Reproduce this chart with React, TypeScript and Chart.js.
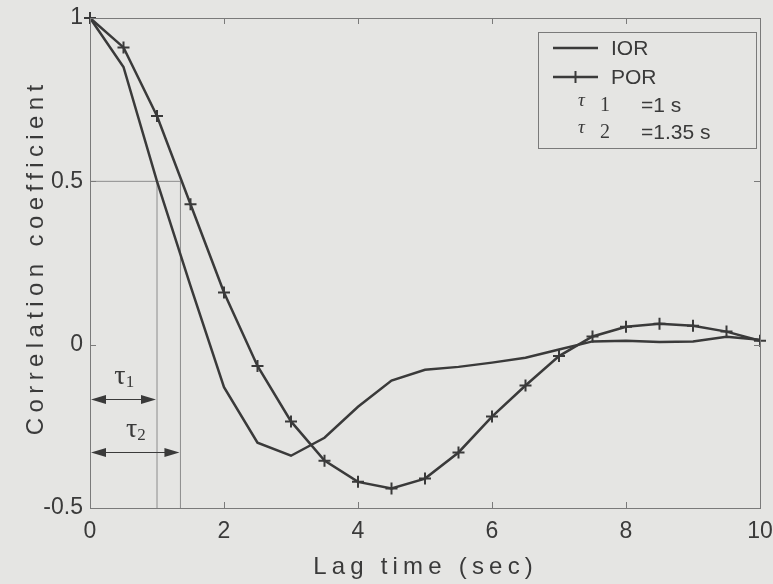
import React, { useEffect, useRef } from "react";
import { Chart, registerables } from "chart.js";

Chart.register(...registerables);

// ---- data ----
const lagTimes = [0, 0.5, 1, 1.5, 2, 2.5, 3, 3.5, 4, 4.5, 5, 5.5, 6, 6.5, 7, 7.5, 8, 8.5, 9, 9.5, 10];
const iorValues = [1.0, 0.85, 0.5, 0.18, -0.13, -0.3, -0.34, -0.285, -0.19, -0.11, -0.077, -0.068, -0.055, -0.04, -0.015, 0.01, 0.012, 0.008, 0.01, 0.024, 0.015];
const porValues = [1.0, 0.91, 0.7, 0.43, 0.16, -0.065, -0.235, -0.355, -0.42, -0.44, -0.41, -0.33, -0.22, -0.125, -0.035, 0.025, 0.055, 0.064, 0.058, 0.04, 0.012];
const seriesNames = ["IOR", "POR"];
const tauValues = [1, 1.35];
const tauArrowLevels = [-0.165, -0.33];
const tauLegendTexts = ["=1 s", "=1.35 s"];
const xTickValues = [0, 2, 4, 6, 8, 10];
const yTickValues = [-0.5, 0, 0.5, 1];
const xTitle = "Lag time (sec)";
const yTitle = "Correlation coefficient";

// ---- styles ----
const BG = "#e5e5e3";
const INK = "#3a3a3a";
const FRAME = "#7a7a7a";
const THIN = "#8c8c8c";
const SANS = '"Liberation Sans", Arial, sans-serif';
const SERIF = '"Liberation Serif", "Times New Roman", serif';

function line(ctx: CanvasRenderingContext2D, x1: number, y1: number, x2: number, y2: number) {
  ctx.beginPath();
  ctx.moveTo(x1, y1);
  ctx.lineTo(x2, y2);
  ctx.stroke();
}

function arrowHead(ctx: CanvasRenderingContext2D, tipX: number, y: number, dir: number) {
  const len = 15;
  const half = 4.5;
  ctx.beginPath();
  ctx.moveTo(tipX, y);
  ctx.lineTo(tipX - dir * len, y - half);
  ctx.lineTo(tipX - dir * len, y + half);
  ctx.closePath();
  ctx.fill();
}

function spacedText(ctx: CanvasRenderingContext2D, text: string, cx: number, y: number, spacing: number) {
  (ctx as any).letterSpacing = spacing + "px";
  const w = ctx.measureText(text).width - spacing;
  ctx.textAlign = "left";
  ctx.fillText(text, cx - w / 2, y);
  (ctx as any).letterSpacing = "0px";
}

const decor = {
  id: "decor",
  beforeDraw(chart: any) {
    const { ctx, width, height } = chart;
    ctx.save();
    ctx.fillStyle = BG;
    ctx.fillRect(0, 0, width, height);
    ctx.restore();
  },
  beforeDatasetsDraw(chart: any) {
    const { ctx } = chart;
    const xs = chart.scales.x;
    const ys = chart.scales.y;
    const xp = (v: number) => xs.getPixelForValue(v);
    const yp = (v: number) => ys.getPixelForValue(v);
    ctx.save();
    ctx.strokeStyle = THIN;
    ctx.lineWidth = 1;
    line(ctx, xp(0), yp(0.5), xp(tauValues[1]), yp(0.5));
    tauValues.forEach((t) => line(ctx, xp(t), yp(0.5), xp(t), yp(-0.5)));

    ctx.strokeStyle = INK;
    ctx.fillStyle = INK;
    tauValues.forEach((t, i) => {
      const y = Math.round(yp(tauArrowLevels[i])) + 0.5;
      line(ctx, xp(0) + 8, y, xp(t) - 8, y);
      arrowHead(ctx, xp(0) + 1, y, -1);
      arrowHead(ctx, xp(t) - 1, y, 1);
      // tau label
      const cx = (xp(0) + xp(t)) / 2;
      ctx.font = `28px ${SERIF}`;
      ctx.textAlign = "left";
      ctx.textBaseline = "alphabetic";
      const tw = ctx.measureText("τ").width;
      const lx = cx - (tw + 9) / 2 + 1;
      ctx.fillText("τ", lx, y - 16);
      ctx.font = `17px ${SERIF}`;
      ctx.fillText(String(i + 1), lx + tw, y - 13);
    });
    ctx.restore();
  },
  afterDraw(chart: any) {
    const { ctx, chartArea } = chart;
    const { left, right, top, bottom } = chartArea;
    const xs = chart.scales.x;
    const ys = chart.scales.y;
    ctx.save();
    // frame
    ctx.strokeStyle = FRAME;
    ctx.lineWidth = 1;
    ctx.strokeRect(Math.round(left) + 0.5, Math.round(top) + 0.5, Math.round(right - left), Math.round(bottom - top));
    // inside ticks
    const tl = 6;
    xTickValues.forEach((v) => {
      const x = Math.round(xs.getPixelForValue(v)) + 0.5;
      line(ctx, x, bottom, x, bottom - tl);
      line(ctx, x, top, x, top + tl);
    });
    yTickValues.forEach((v) => {
      const y = Math.round(ys.getPixelForValue(v)) + 0.5;
      line(ctx, left, y, left + tl, y);
      line(ctx, right, y, right - tl, y);
    });

    // legend box
    const bx = 538, by = 32, bw = 218, bh = 116;
    ctx.strokeStyle = FRAME;
    ctx.strokeRect(bx + 0.5, by + 0.5, bw, bh);
    ctx.strokeStyle = INK;
    ctx.fillStyle = INK;
    ctx.lineWidth = 2.5;
    const rows = [48, 77, 104, 131];
    line(ctx, 553, rows[0], 598, rows[0]);
    line(ctx, 553, rows[1], 598, rows[1]);
    ctx.lineWidth = 2;
    line(ctx, 575.5, rows[1] - 6, 575.5, rows[1] + 6);
    ctx.font = `21px ${SANS}`;
    ctx.textBaseline = "middle";
    ctx.textAlign = "left";
    ctx.fillText(seriesNames[0], 611, rows[0] + 1);
    ctx.fillText(seriesNames[1], 611, rows[1] + 1);
    tauLegendTexts.forEach((txt, i) => {
      const r = rows[2 + i];
      ctx.textBaseline = "alphabetic";
      ctx.font = `italic 19px ${SERIF}`;
      ctx.fillText("τ", 578, r + 2);
      ctx.font = `20px ${SERIF}`;
      ctx.fillText(String(i + 1), 600, r + 7);
      ctx.font = `21px ${SANS}`;
      ctx.fillText(txt, 641, r + 8);
    });

    // axis titles
    ctx.fillStyle = INK;
    ctx.font = `24px ${SANS}`;
    ctx.textBaseline = "alphabetic";
    spacedText(ctx, xTitle, 423, 574, 5.2);
    ctx.translate(43, 260);
    ctx.rotate(-Math.PI / 2);
    spacedText(ctx, yTitle, 0, 0, 5.4);
    ctx.restore();
  },
};

export default function App() {
  const canvasRef = useRef<HTMLCanvasElement | null>(null);

  useEffect(() => {
    document.body.style.margin = "0";
    document.body.style.background = BG;
    const canvas = canvasRef.current;
    if (!canvas) return;
    const chart = new Chart(canvas, {
      type: "line",
      data: {
        datasets: [
          {
            label: seriesNames[0],
            data: lagTimes.map((t, i) => ({ x: t, y: iorValues[i] })),
            borderColor: INK,
            borderWidth: 2.5,
            pointRadius: 0,
            pointHoverRadius: 0,
            tension: 0,
            clip: false,
          },
          {
            label: seriesNames[1],
            data: lagTimes.map((t, i) => ({ x: t, y: porValues[i] })),
            borderColor: INK,
            borderWidth: 2.5,
            pointStyle: "cross",
            pointRadius: 6,
            pointHoverRadius: 6,
            pointBorderWidth: 2,
            pointBorderColor: INK,
            pointBackgroundColor: INK,
            tension: 0,
            clip: false,
          },
        ],
      } as any,
      options: {
        animation: false,
        responsive: false,
        devicePixelRatio: 1,
        events: [],
        layout: { padding: { top: 18, right: 13, left: 0, bottom: 0 } },
        plugins: { legend: { display: false }, tooltip: { enabled: false } },
        scales: {
          x: {
            type: "linear",
            min: 0,
            max: 10,
            afterBuildTicks: (s: any) => {
              s.ticks = xTickValues.map((v) => ({ value: v }));
            },
            afterFit: (s: any) => {
              s.height = 76;
              s.paddingLeft = 0;
              s.paddingRight = 0;
            },
            grid: { display: false, drawTicks: false },
            border: { display: false },
            ticks: {
              font: { family: SANS, size: 23 },
              color: INK,
              padding: 10,
              maxRotation: 0,
              autoSkip: false,
              callback: (v: any) => String(v),
            },
          },
          y: {
            type: "linear",
            min: -0.5,
            max: 1,
            afterBuildTicks: (s: any) => {
              s.ticks = yTickValues.map((v) => ({ value: v }));
            },
            afterFit: (s: any) => {
              s.width = 90;
              s.paddingTop = 0;
              s.paddingBottom = 0;
            },
            grid: { display: false, drawTicks: false },
            border: { display: false },
            ticks: {
              font: { family: SANS, size: 23 },
              color: INK,
              padding: 7,
              autoSkip: false,
              callback: (v: any) => String(v),
            },
          },
        },
      } as any,
      plugins: [decor],
    });
    return () => chart.destroy();
  }, []);

  return (
    <div style={{ position: "fixed", left: 0, top: 0, width: 773, height: 584, background: BG }}>
      <canvas ref={canvasRef} width={773} height={584} style={{ display: "block" }} />
    </div>
  );
}
